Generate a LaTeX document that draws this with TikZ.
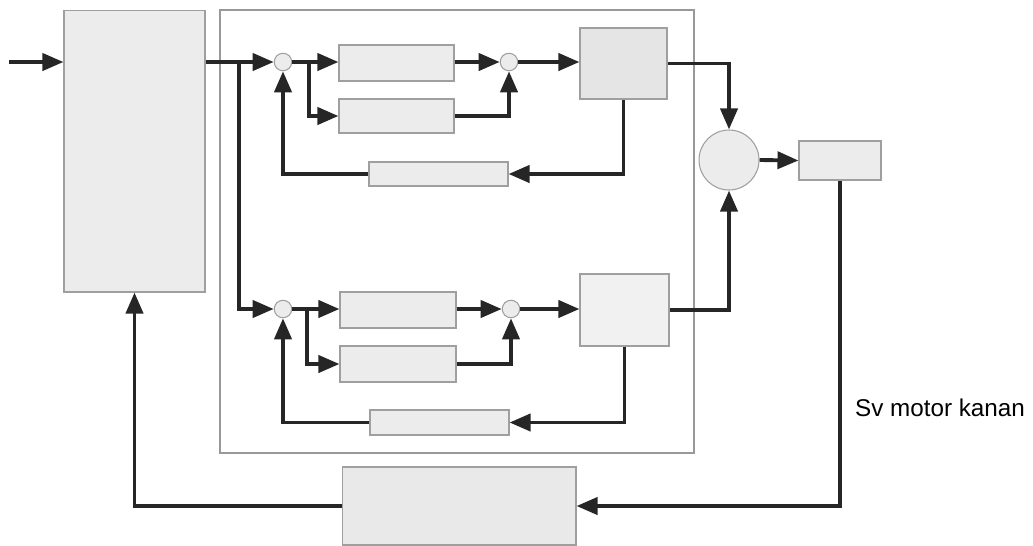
\documentclass[tikz,border=0pt]{standalone}
\usetikzlibrary{arrows.meta}
\usepackage{fontspec}
\setmainfont{Liberation Sans}

\begin{document}
\begin{tikzpicture}[x=0.02cm,y=-0.02cm,
  garis/.style={line width=2.2pt,draw=black!85},
  panah/.style={garis,-{Triangle[length=4.2mm,width=3.4mm]}},
  blok/.style={draw=gray!75,fill=gray!15,line width=0.6pt,inner sep=0pt},
  titik/.style={circle,draw=gray!75,fill=gray!15,line width=0.6pt,inner sep=0pt,minimum size=0.35cm}]
\useasboundingbox (0,0) rectangle (1033,545);
% kotak pembatas
\draw[gray!80,line width=0.6pt] (220,10) rectangle (694,453);
% blok kiri dan masukan
\node[blok,minimum width=2.82cm,minimum height=5.64cm] (utama) at (134.5,151) {};
\coordinate (masuk) at (9,62);
\draw[panah] (masuk) -- (utama.west |- masuk);
% cabang atas
\node[titik] (j1) at (283,62) {};
\node[blok,minimum width=2.3cm,minimum height=0.72cm] (b1) at (396.5,63) {};
\node[blok,minimum width=2.3cm,minimum height=0.68cm] (b2) at (396.5,116) {};
\node[titik] (j2) at (509,62) {};
\node[blok,fill=gray!20,minimum width=1.74cm,minimum height=1.42cm] (p1) at (623.5,63.5) {};
\node[blok,minimum width=2.78cm,minimum height=0.48cm] (f1) at (438.5,174) {};
% cabang bawah
\node[titik] (j3) at (283,309) {};
\node[blok,minimum width=2.32cm,minimum height=0.72cm] (b3) at (398,310) {};
\node[blok,minimum width=2.32cm,minimum height=0.72cm] (b4) at (398,364) {};
\node[titik] (j4) at (511,309) {};
\node[blok,fill=gray!11,minimum width=1.78cm,minimum height=1.44cm] (p2) at (624.5,310) {};
\node[blok,minimum width=2.78cm,minimum height=0.5cm] (f2) at (439.5,422.5) {};
% penjumlah, keluaran, umpan balik
\node[titik,minimum size=1.2cm] (jum) at (729,160) {};
\node[blok,minimum width=1.64cm,minimum height=0.78cm] (keluar) at (840,160.5) {};
\node[blok,fill=gray!17,minimum width=4.68cm,minimum height=1.56cm] (umpan) at (459,506) {};
\node[font=\fontsize{13.8}{16}\selectfont] (sv) at (940,408) {Sv motor kanan};
% titik cabang
\coordinate (cab0) at (239,62);
\coordinate (cab1) at (309,62);
\coordinate (cab3) at (307,309);
% sambungan atas
\draw[panah] (utama.east |- j1) -- (j1.west);
\draw[panah] (j1.east) -- (b1.west |- j1);
\draw[panah] (cab1) |- (b2.west);
\draw[panah] (b1.east |- j2) -- (j2.west);
\draw[panah] (b2.east) -| (j2.south);
\draw[panah] (j2.east) -- (p1.west |- j2);
\draw[panah] (p1.south) |- (f1.east);
\draw[panah] (f1.west) -| (j1.south);
% sambungan bawah
\draw[panah] (cab0) |- (j3.west);
\draw[panah] (j3.east) -- (b3.west |- j3);
\draw[panah] (cab3) |- (b4.west);
\draw[panah] (b3.east |- j4) -- (j4.west);
\draw[panah] (b4.east) -| (j4.south);
\draw[panah] (j4.east) -- (p2.west |- j4);
\draw[panah] (p2.south) |- (f2.east);
\draw[panah] (f2.west) -| (j3.south);
% ke penjumlah dan umpan balik
\draw[panah] (p1.east) -| (jum.north);
\draw[panah] (p2.east) -| (jum.south);
\draw[panah] (jum.east) -- (keluar.west);
\draw[panah] (keluar.south) |- (umpan.east);
\draw[panah] (umpan.west) -| (utama.south);
\end{tikzpicture}
\end{document}
